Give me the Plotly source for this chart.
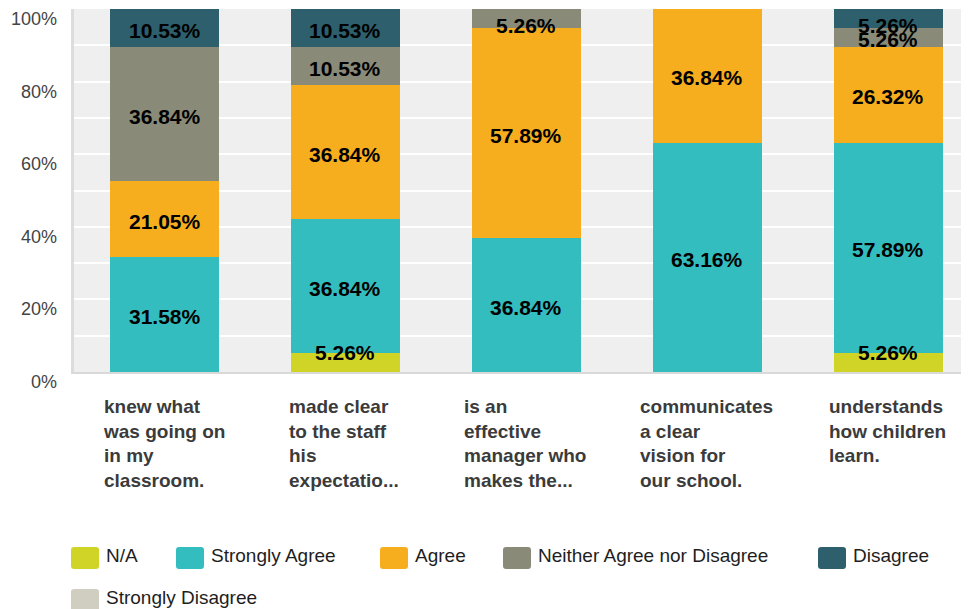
import plotly.graph_objects as go

# ---- data ----
categories = [
    "knew what<br>was going on<br>in my<br>classroom.",
    "made clear<br>to the staff<br>his<br>expectatio...",
    "is an<br>effective<br>manager who<br>makes the...",
    "communicates<br>a clear<br>vision for<br>our school.",
    "understands<br>how children<br>learn.",
]
series_names = ["N/A", "Strongly Agree", "Agree", "Neither Agree nor Disagree",
                "Disagree", "Strongly Disagree"]
na = [0, 5.26, 0, 0, 5.26]
strongly_agree = [31.58, 36.84, 36.84, 63.16, 57.89]
agree = [21.05, 36.84, 57.89, 36.84, 26.32]
neither = [36.84, 10.53, 5.26, 0, 5.26]
disagree = [10.53, 10.53, 0, 0, 5.26]
strongly_disagree = [0, 0, 0, 0, 0]
y_grid_values = [0, 10, 20, 30, 40, 50, 60, 70, 80, 90, 100]
y_label_values = [0, 20, 40, 60, 80, 100]
y_label_texts = ["0%", "20%", "40%", "60%", "80%", "100%"]

series_values = [na, strongly_agree, agree, neither, disagree, strongly_disagree]
colors = ["#cfd427", "#33bdbf", "#f6ae1f", "#898a78", "#2e5f6c", "#cfcec0"]

FONT = "Arial, Liberation Sans, sans-serif"

# ---- layout geometry (pixels, page has an 8px body margin) ----
OFF = 8
W, H = 969 - OFF, 609 - OFF
PL, PT, PB = 74 - OFF, 9 - OFF, 372 - OFF
PR = 969 - OFF
PW, PH = PR - PL, PB - PT


def px_x(px):
    """reference-screen x pixel -> paper coordinate"""
    return (px - OFF - PL) / PW


def px_y(py):
    """reference-screen y pixel -> paper coordinate"""
    return (PB - (py - OFF)) / PH


fig = go.Figure()

for name, vals, col in zip(series_names, series_values, colors):
    fig.add_trace(go.Bar(
        x=categories, y=vals, name=name, marker=dict(color=col, line=dict(width=0)),
        showlegend=False, hoverinfo="skip",
    ))

annotations = []

# data labels (centered in segment, kept inside plot area)
for ci, cat in enumerate(categories):
    base = 0.0
    for vals in series_values:
        v = vals[ci]
        if v > 0:
            mid = min(max(base + v / 2, 5.8), 95.9)
            annotations.append(dict(
                x=cat, xref="x", y=mid, yref="y", yshift=-2, text=f"{v:.2f}%",
                xanchor="center", yanchor="middle", showarrow=False,
                font=dict(family=FONT, size=21, color="#000000", weight="bold"),
            ))
        base += v

# y tick labels (placed slightly below their gridline, as in the reference)
for v, t in zip(y_label_values, y_label_texts):
    annotations.append(dict(
        x=px_x(59), xref="paper", y=v, yref="y", yshift=-10, text=t,
        xanchor="right", yanchor="middle", showarrow=False,
        font=dict(family=FONT, size=18, color="#444444"),
    ))

# category labels
for cat in categories:
    annotations.append(dict(
        x=cat, xref="x", y=px_y(394), yref="paper", text=cat, xshift=-1,
        xanchor="center", yanchor="top", align="left", showarrow=False,
        font=dict(family=FONT, size=19, color="#3b3b3b", weight="bold"),
    ))

# legend
shapes = []
legend_swatch_x = [71, 176, 380, 503, 818, 71]
legend_row_y = [558, 558, 558, 558, 558, 600]
sw_w, sw_h, r = 28, 22, 3
for name, col, sx, sy in zip(series_names, colors, legend_swatch_x, legend_row_y):
    x0, x1 = px_x(sx), px_x(sx + sw_w)
    y0, y1 = px_y(sy + sw_h / 2), px_y(sy - sw_h / 2)
    rx, ry = r / PW, r / PH
    path = (f"M{x0+rx},{y0} L{x1-rx},{y0} Q{x1},{y0} {x1},{y0+ry} "
            f"L{x1},{y1-ry} Q{x1},{y1} {x1-rx},{y1} L{x0+rx},{y1} "
            f"Q{x0},{y1} {x0},{y1-ry} L{x0},{y0+ry} Q{x0},{y0} {x0+rx},{y0} Z")
    shapes.append(dict(type="path", xref="paper", yref="paper", path=path,
                       fillcolor=col, line=dict(width=0), layer="above"))
    annotations.append(dict(
        x=px_x(sx + 33), xref="paper", y=px_y(sy - 3), yref="paper", text=name,
        xanchor="left", yanchor="middle", showarrow=False,
        font=dict(family=FONT, size=19, color="#1e1e1e"),
    ))

fig.update_layout(
    width=W, height=H,
    margin=dict(l=PL, r=W - PR, t=PT, b=H - PB, pad=0),
    paper_bgcolor="#ffffff", plot_bgcolor="#efefef",
    barmode="stack", bargap=0.4,
    annotations=annotations, shapes=shapes,
    showlegend=False,
    xaxis=dict(
        range=[-0.5, 4.445], showticklabels=False, showgrid=False, zeroline=False,
        showline=True, linecolor="#d9d9d9", linewidth=2, ticks="",
        fixedrange=True,
    ),
    yaxis=dict(
        range=[0, 100], tickvals=y_grid_values, showticklabels=False,
        showgrid=True, gridcolor="#ffffff", gridwidth=2, zeroline=False,
        showline=True, linecolor="#dcdcdc", linewidth=3, ticks="",
        fixedrange=True,
    ),
)

fig.write_html("out.html")
